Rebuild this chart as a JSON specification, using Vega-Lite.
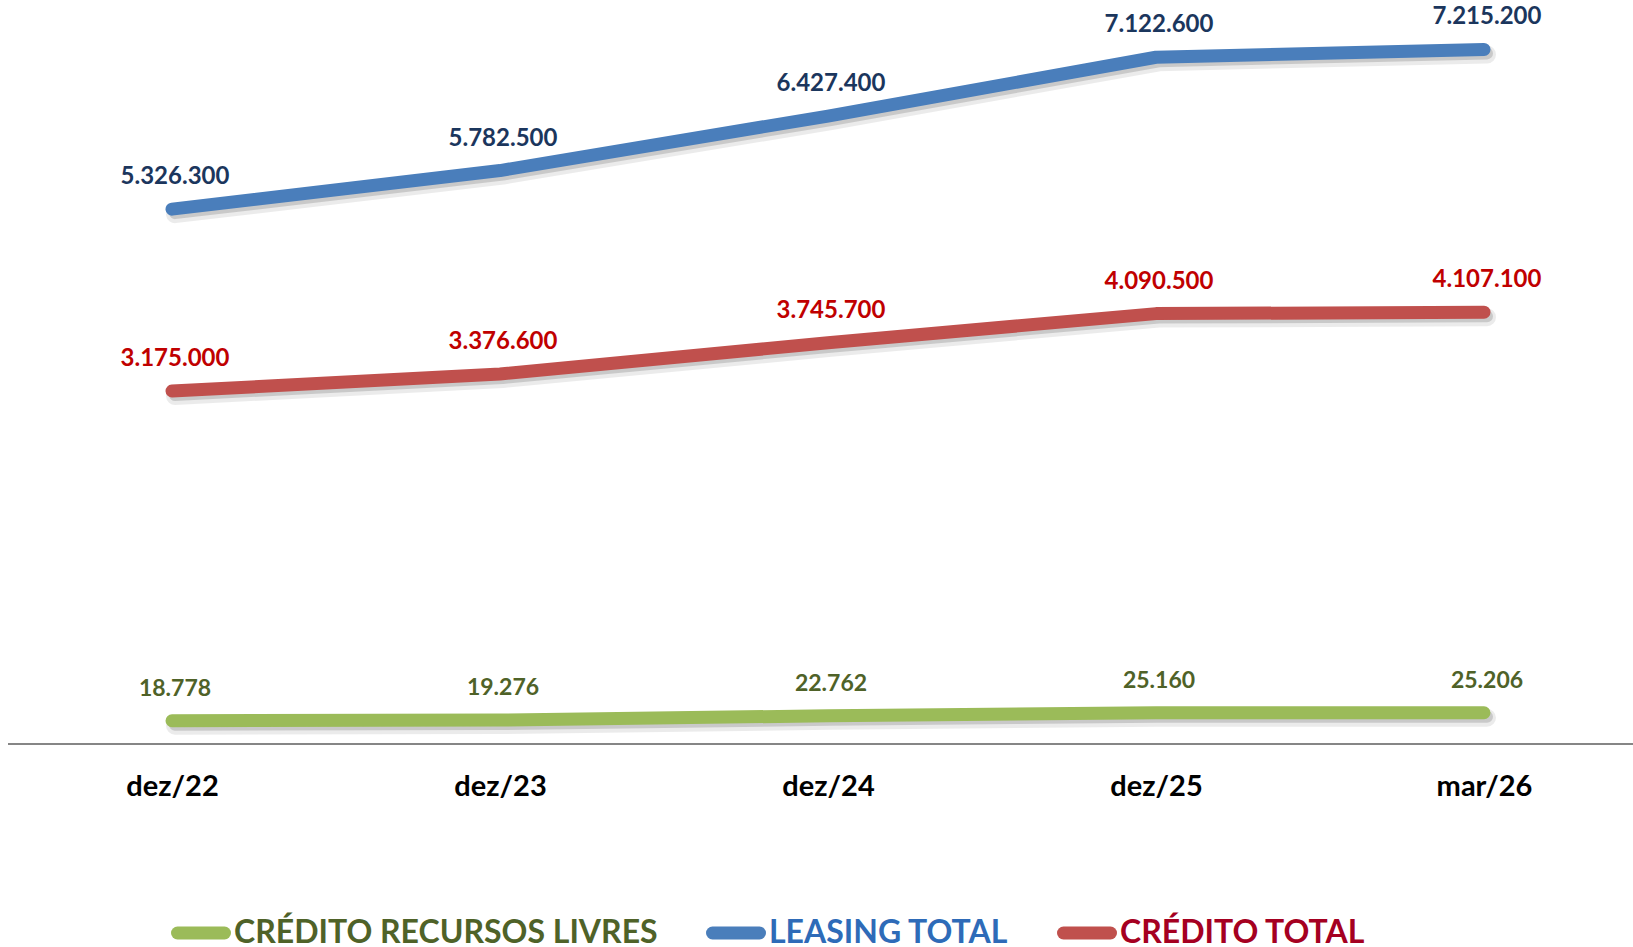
{
  "$schema": "https://vega.github.io/schema/vega-lite/v6.json",
  "width": 1625,
  "height": 744,
  "autosize": {"type": "none"},
  "padding": {"left": 8, "top": 0, "right": 0, "bottom": 203},
  "background": "white",
  "config": {
    "view": {"stroke": null},
    "font": "Lato",
    "locale": {"number": {"decimal": ",", "thousands": ".", "grouping": [3], "currency": ["R$ ", ""]}},
    "axisX": {
      "domain": false, "ticks": false, "tickSize": 0, "grid": false,
      "labelFont": "Lato", "labelFontWeight": "bold", "labelFontSize": 29,
      "labelColor": "#000000", "labelPadding": 28, "title": null, "labelAngle": 0
    }
  },
  "data": {
    "values": [
      {"periodo": "dez/22", "serie": "LEASING TOTAL", "valor": 5326300},
      {"periodo": "dez/23", "serie": "LEASING TOTAL", "valor": 5782500},
      {"periodo": "dez/24", "serie": "LEASING TOTAL", "valor": 6427400},
      {"periodo": "dez/25", "serie": "LEASING TOTAL", "valor": 7122600},
      {"periodo": "mar/26", "serie": "LEASING TOTAL", "valor": 7215200},
      {"periodo": "dez/22", "serie": "CRÉDITO TOTAL", "valor": 3175000},
      {"periodo": "dez/23", "serie": "CRÉDITO TOTAL", "valor": 3376600},
      {"periodo": "dez/24", "serie": "CRÉDITO TOTAL", "valor": 3745700},
      {"periodo": "dez/25", "serie": "CRÉDITO TOTAL", "valor": 4090500},
      {"periodo": "mar/26", "serie": "CRÉDITO TOTAL", "valor": 4107100},
      {"periodo": "dez/22", "serie": "CRÉDITO RECURSOS LIVRES", "valor": 18778},
      {"periodo": "dez/23", "serie": "CRÉDITO RECURSOS LIVRES", "valor": 19276},
      {"periodo": "dez/24", "serie": "CRÉDITO RECURSOS LIVRES", "valor": 22762},
      {"periodo": "dez/25", "serie": "CRÉDITO RECURSOS LIVRES", "valor": 25160},
      {"periodo": "mar/26", "serie": "CRÉDITO RECURSOS LIVRES", "valor": 25206}
    ]
  },
  "layer": [
    {
      "layer": [
        {
          "transform": [{"filter": "datum.serie !== 'CRÉDITO RECURSOS LIVRES'"}],
          "encoding": {
            "y": {"field": "valor", "type": "quantitative", "scale": {"domain": [-1000000, 7800000], "nice": false, "zero": false}, "axis": null}
          },
          "layer": [
            {
              "mark": {"type": "line", "color": "#000000", "opacity": 0.08, "strokeWidth": 18, "strokeCap": "round", "strokeJoin": "round", "xOffset": 3, "yOffset": 5},
              "encoding": {
                "x": {"field": "periodo", "type": "ordinal", "sort": ["dez/22", "dez/23", "dez/24", "dez/25", "mar/26"], "scale": {"type": "point", "padding": 0, "range": [164, 1476]}},
                "detail": {"field": "serie"}
              }
            },
            {
              "mark": {"type": "line", "color": "#000000", "opacity": 0.14, "strokeWidth": 12, "strokeCap": "round", "strokeJoin": "round", "xOffset": 3, "yOffset": 4},
              "encoding": {
                "x": {"field": "periodo", "type": "ordinal", "sort": ["dez/22", "dez/23", "dez/24", "dez/25", "mar/26"], "scale": {"type": "point", "padding": 0, "range": [164, 1476]}},
                "detail": {"field": "serie"}
              }
            },
            {
              "mark": {"type": "line", "strokeWidth": 13, "strokeCap": "round", "strokeJoin": "round"},
              "encoding": {
                "x": {"field": "periodo", "type": "ordinal", "sort": ["dez/22", "dez/23", "dez/24", "dez/25", "mar/26"], "scale": {"type": "point", "padding": 0, "range": [164, 1476]}},
                "color": {
                  "field": "serie", "type": "nominal",
                  "scale": {"domain": ["CRÉDITO RECURSOS LIVRES", "LEASING TOTAL", "CRÉDITO TOTAL"], "range": ["#9BBB59", "#4A7EBB", "#C0504D"]},
                  "legend": {
                    "title": null, "orient": "none", "legendX": 163, "legendY": 903, "direction": "horizontal",
                    "padding": 0, "symbolType": "stroke", "symbolStrokeWidth": 13, "symbolSize": 2209,
                    "labelFont": "Lato", "labelFontSize": 32, "labelFontWeight": "bold", "labelOffset": 3,
                    "labelLimit": 0, "columnPadding": 28,
                    "encode": {
                      "labels": {"update": {"fill": {"signal": "datum.value === 'LEASING TOTAL' ? '#2E6BB8' : datum.value === 'CRÉDITO TOTAL' ? '#A50021' : '#4F6228'"}}},
                      "symbols": {"update": {"strokeCap": {"value": "round"}}}
                    }
                  }
                }
              }
            },
            {
              "mark": {"type": "text", "font": "Lato", "fontWeight": "bold", "fontSize": 24, "dy": -25, "dx": 3, "baseline": "alphabetic"},
              "encoding": {
                "x": {"field": "periodo", "type": "ordinal", "sort": ["dez/22", "dez/23", "dez/24", "dez/25", "mar/26"], "scale": {"type": "point", "padding": 0, "range": [164, 1476]}},
                "text": {"field": "valor", "type": "quantitative", "format": ",d"},
                "fill": {"field": "serie", "type": "nominal", "scale": {"domain": ["CRÉDITO RECURSOS LIVRES", "LEASING TOTAL", "CRÉDITO TOTAL"], "range": ["#4F6228", "#1B365D", "#C00000"]}, "legend": null}
              }
            }
          ]
        },
        {
          "transform": [{"filter": "datum.serie === 'CRÉDITO RECURSOS LIVRES'"}],
          "encoding": {
            "y": {"field": "valor", "type": "quantitative", "scale": {"domain": [0, 600000], "nice": false, "zero": false}, "axis": null}
          },
          "layer": [
            {
              "mark": {"type": "line", "color": "#000000", "opacity": 0.08, "strokeWidth": 18, "strokeCap": "round", "strokeJoin": "round", "xOffset": 3, "yOffset": 5},
              "encoding": {
                "x": {"field": "periodo", "type": "ordinal", "sort": ["dez/22", "dez/23", "dez/24", "dez/25", "mar/26"], "scale": {"type": "point", "padding": 0, "range": [164, 1476]}},
                "detail": {"field": "serie"}
              }
            },
            {
              "mark": {"type": "line", "color": "#000000", "opacity": 0.14, "strokeWidth": 12, "strokeCap": "round", "strokeJoin": "round", "xOffset": 3, "yOffset": 4},
              "encoding": {
                "x": {"field": "periodo", "type": "ordinal", "sort": ["dez/22", "dez/23", "dez/24", "dez/25", "mar/26"], "scale": {"type": "point", "padding": 0, "range": [164, 1476]}},
                "detail": {"field": "serie"}
              }
            },
            {
              "mark": {"type": "line", "strokeWidth": 13, "strokeCap": "round", "strokeJoin": "round"},
              "encoding": {
                "x": {"field": "periodo", "type": "ordinal", "sort": ["dez/22", "dez/23", "dez/24", "dez/25", "mar/26"], "scale": {"type": "point", "padding": 0, "range": [164, 1476]}},
                "color": {"field": "serie", "type": "nominal", "scale": {"domain": ["CRÉDITO RECURSOS LIVRES", "LEASING TOTAL", "CRÉDITO TOTAL"], "range": ["#9BBB59", "#4A7EBB", "#C0504D"]}}
              }
            },
            {
              "mark": {"type": "text", "font": "Lato", "fontWeight": "bold", "fontSize": 23, "dy": -25, "dx": 3, "baseline": "alphabetic"},
              "encoding": {
                "x": {"field": "periodo", "type": "ordinal", "sort": ["dez/22", "dez/23", "dez/24", "dez/25", "mar/26"], "scale": {"type": "point", "padding": 0, "range": [164, 1476]}},
                "text": {"field": "valor", "type": "quantitative", "format": ",d"},
                "fill": {"field": "serie", "type": "nominal", "scale": {"domain": ["CRÉDITO RECURSOS LIVRES", "LEASING TOTAL", "CRÉDITO TOTAL"], "range": ["#4F6228", "#1B365D", "#C00000"]}, "legend": null}
              }
            }
          ]
        }
      ],
      "resolve": {"scale": {"y": "independent"}}
    },
    {
      "transform": [{"aggregate": [{"op": "count", "as": "n"}]}],
      "mark": {"type": "rule", "color": "#868686", "strokeWidth": 2},
      "encoding": {
        "y": {"datum": 0, "type": "quantitative", "scale": {"domain": [0, 1], "nice": false}, "axis": null}
      }
    }
  ],
  "resolve": {"scale": {"x": "independent", "y": "independent"}}
}
